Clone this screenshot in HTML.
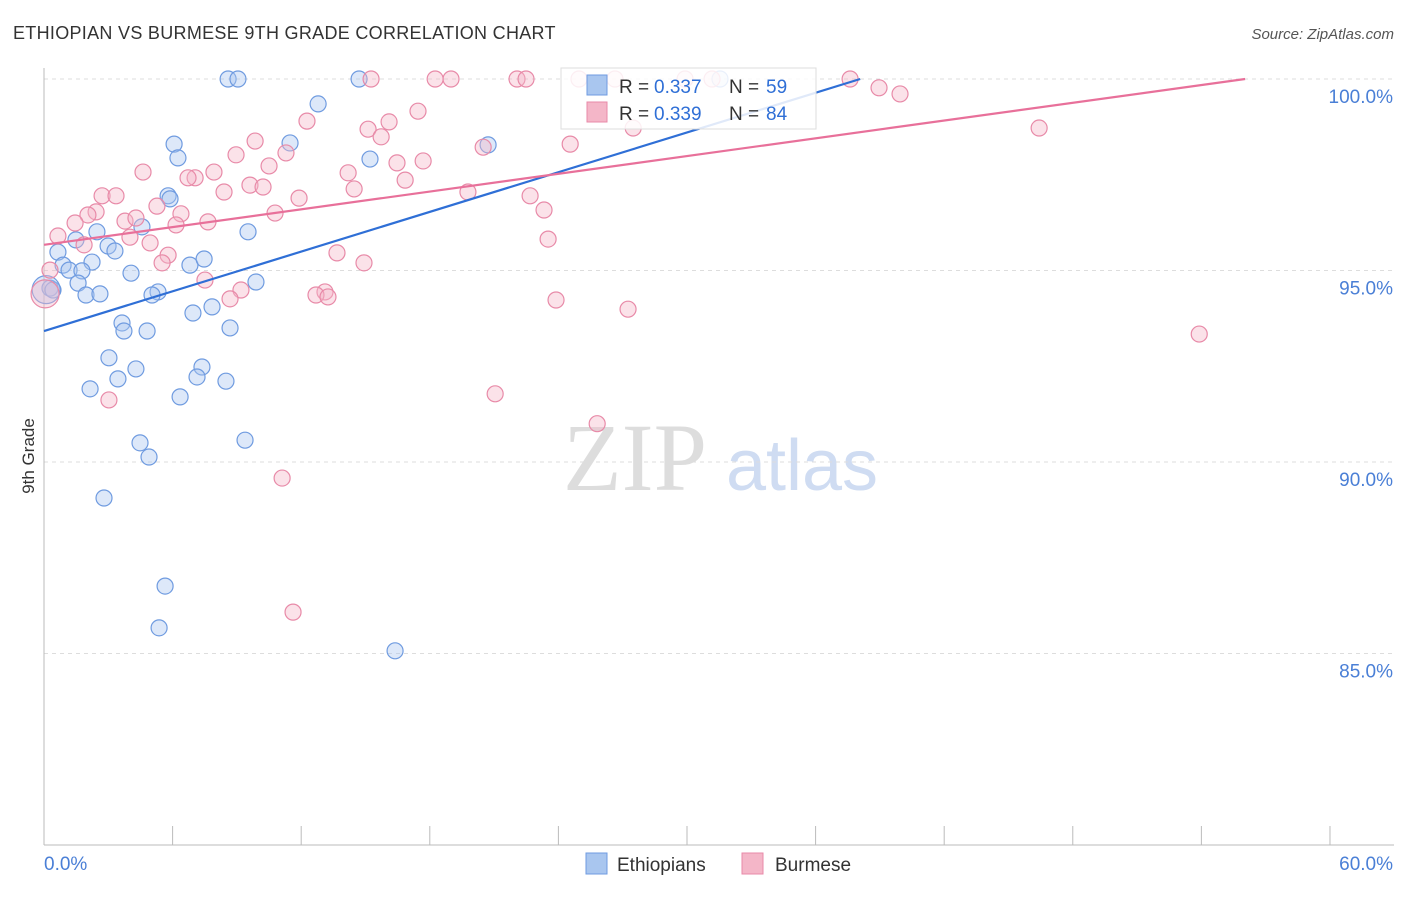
<!DOCTYPE html>
<html><head><meta charset="utf-8"><style>
body{margin:0;background:#fff;font-family:"Liberation Sans",sans-serif}
</style></head><body>
<svg id="chart" width="1406" height="892" xmlns="http://www.w3.org/2000/svg">
<text x="13" y="39" font-size="18" fill="#333" letter-spacing="0.3">ETHIOPIAN VS BURMESE 9TH GRADE CORRELATION CHART</text>
<text x="1394" y="39" font-size="15" fill="#555" font-style="italic" text-anchor="end">Source: ZipAtlas.com</text>
<text transform="translate(34,456) rotate(-90)" font-size="17" fill="#333" text-anchor="middle">9th Grade</text>
<g>
<text x="635" y="490" font-size="96" fill="#ddd" font-family="Liberation Serif" text-anchor="middle">ZIP</text>
<text x="802" y="490" font-size="72" fill="#cfdcf2" text-anchor="middle">atlas</text>
</g>
<g id="grid"></g><g id="axes"></g><g id="points"></g><g id="trends"></g>
<g>
<rect x="561" y="68" width="255" height="61" fill="#fff" fill-opacity="0.85" stroke="#ddd"/>
<rect x="587" y="75" width="20" height="20" fill="#a9c6ef" stroke="#6f9be0"/>
<text x="619" y="93" font-size="19" fill="#333">R =</text>
<text x="654" y="93" font-size="19" fill="#2f6fd6">0.337</text>
<text x="729" y="93" font-size="19" fill="#333">N =</text>
<text x="766" y="93" font-size="19" fill="#2f6fd6">59</text>
<rect x="587" y="102" width="20" height="20" fill="#f4b6c8" stroke="#e88aa8"/>
<text x="619" y="120" font-size="19" fill="#333">R =</text>
<text x="654" y="120" font-size="19" fill="#2f6fd6">0.339</text>
<text x="729" y="120" font-size="19" fill="#333">N =</text>
<text x="766" y="120" font-size="19" fill="#2f6fd6">84</text>
</g>
<g>
<rect x="586" y="853" width="21" height="21" fill="#a9c6ef" stroke="#6f9be0"/>
<text x="617" y="871" font-size="19" fill="#333">Ethiopians</text>
<rect x="742" y="853" width="21" height="21" fill="#f4b6c8" stroke="#e88aa8"/>
<text x="775" y="871" font-size="19" fill="#333">Burmese</text>
</g>
</svg>
<script>
const yTicks=[100,95,90,85];
const yTickLabels=["100.0%","95.0%","90.0%","85.0%"];
const xTicks=[0,6,12,18,24,30,36,42,48,54,60];
const xEndLabels=["0.0%","60.0%"];
const ethX=[8.59,9.05,14.70,12.79,6.07,11.48,20.72,6.25,15.21,5.79,5.88,9.52,2.47,4.57,1.49,2.99,3.31,0.65,2.24,0.89,1.17,1.77,6.81,7.47,4.06,1.59,9.89,0.28,0.42,1.96,2.61,5.32,5.04,7.84,6.95,3.64,3.73,4.81,8.68,3.03,4.29,7.37,3.45,7.14,8.49,2.15,6.35,4.48,9.38,4.90,2.80,5.65,5.37,16.38,31.54,0.1];
const ethY=[100,100,100,99.35,98.30,98.33,98.28,97.94,97.91,96.95,96.87,96.01,96.01,96.14,95.80,95.64,95.51,95.48,95.22,95.14,95.01,94.99,95.14,95.30,94.93,94.67,94.70,94.54,94.49,94.36,94.39,94.44,94.36,94.05,93.89,93.63,93.42,93.42,93.50,92.72,92.43,92.48,92.17,92.22,92.11,91.91,91.70,90.50,90.57,90.13,89.06,86.76,85.67,85.07,100,94.5];
const burX=[24.96,26.64,29.91,31.17,15.26,18.25,18.99,22.07,22.49,37.61,38.96,39.94,17.45,12.27,16.10,15.12,15.73,46.43,9.85,24.55,27.49,20.49,11.29,8.96,17.69,16.47,10.50,4.62,7.05,7.93,6.72,14.19,16.85,9.61,10.22,8.40,14.47,19.78,2.71,3.36,11.90,22.68,5.27,2.43,2.05,1.45,3.78,4.29,6.39,7.65,6.16,10.78,23.33,0.65,4.01,4.95,1.87,5.79,13.67,23.52,5.51,14.93,0.28,7.51,9.19,13.11,12.69,13.25,8.68,23.89,27.25,53.90,3.03,21.05,25.81,11.11,11.62,0.05];
const burY=[100,100,100,100,100,100,100,100,100,100,99.77,99.61,99.16,98.90,98.88,98.69,98.49,98.72,98.38,98.30,98.72,98.22,98.07,98.02,97.86,97.81,97.73,97.57,97.42,97.57,97.42,97.55,97.36,97.23,97.18,97.05,97.13,97.05,96.95,96.95,96.89,96.95,96.68,96.53,96.45,96.24,96.29,96.37,96.48,96.27,96.19,96.50,96.58,95.90,95.87,95.72,95.67,95.40,95.46,95.82,95.20,95.20,95.01,94.75,94.49,94.44,94.36,94.31,94.26,94.23,93.99,93.34,91.62,91.78,91.00,89.58,86.08,94.39];
const ethTrendX=[0,38.08];const ethTrendY=[93.42,100];
const burTrendX=[0,56.04];const burTrendY=[95.67,100];
const NS="http://www.w3.org/2000/svg";
const X=v=>44+v*21.433, Y=v=>79+(100-v)*38.3;
function mk(p,t,a){const e=document.createElementNS(NS,t);for(const k in a)e.setAttribute(k,a[k]);p.appendChild(e);return e;}
const grid=document.getElementById('grid'),axes=document.getElementById('axes'),pts=document.getElementById('points'),tr=document.getElementById('trends');
yTicks.forEach((t,i)=>{
 const l=mk(grid,'line',{x1:44,x2:1394,y1:Y(t),y2:Y(t),stroke:'#ddd','stroke-dasharray':'4,4'});
 
 
 const tx=mk(grid,'text',{x:1393,y:Y(t)+24,'font-size':19,fill:'#4a7fd6','text-anchor':'end'});tx.textContent=yTickLabels[i];
 
 
});
const ya=mk(axes,'line',{x1:44,x2:44,y1:68,y2:845,stroke:'#bbb'});


const xa=mk(axes,'line',{x1:44,x2:1394,y1:845,y2:845,stroke:'#bbb'});


xTicks.forEach(t=>{const l=mk(axes,'line',{x1:X(t),x2:X(t),y1:826,y2:845,stroke:'#bbb'});
 
 });
[[0,'start',44],[60,'end',1393]].forEach((d,i)=>{const tx=mk(axes,'text',{x:d[2],y:870,'font-size':19,fill:'#4a7fd6','text-anchor':d[1]});tx.textContent=xEndLabels[i];
 
 });
function series(xs,ys,fill,stroke,name){xs.forEach((x,i)=>{const big=(i===xs.length-1);
 const c=mk(pts,'circle',{cx:X(x),cy:Y(ys[i]),r:big?14:8,fill:fill,'fill-opacity':0.4,stroke:stroke,'stroke-width':1.2});
 
 });}
series(ethX,ethY,'#a9c6ef','#6f9be0','ethiopian-point');
series(burX,burY,'#f4b6c8','#e88aa8','burmese-point');
const t1=mk(tr,'line',{x1:X(ethTrendX[0]),y1:Y(ethTrendY[0]),x2:X(ethTrendX[1]),y2:Y(ethTrendY[1]),stroke:'#2f6fd6','stroke-width':2.2});


const t2=mk(tr,'line',{x1:X(burTrendX[0]),y1:Y(burTrendY[0]),x2:X(burTrendX[1]),y2:Y(burTrendY[1]),stroke:'#e8709a','stroke-width':2.2});


</script>
</body></html>
